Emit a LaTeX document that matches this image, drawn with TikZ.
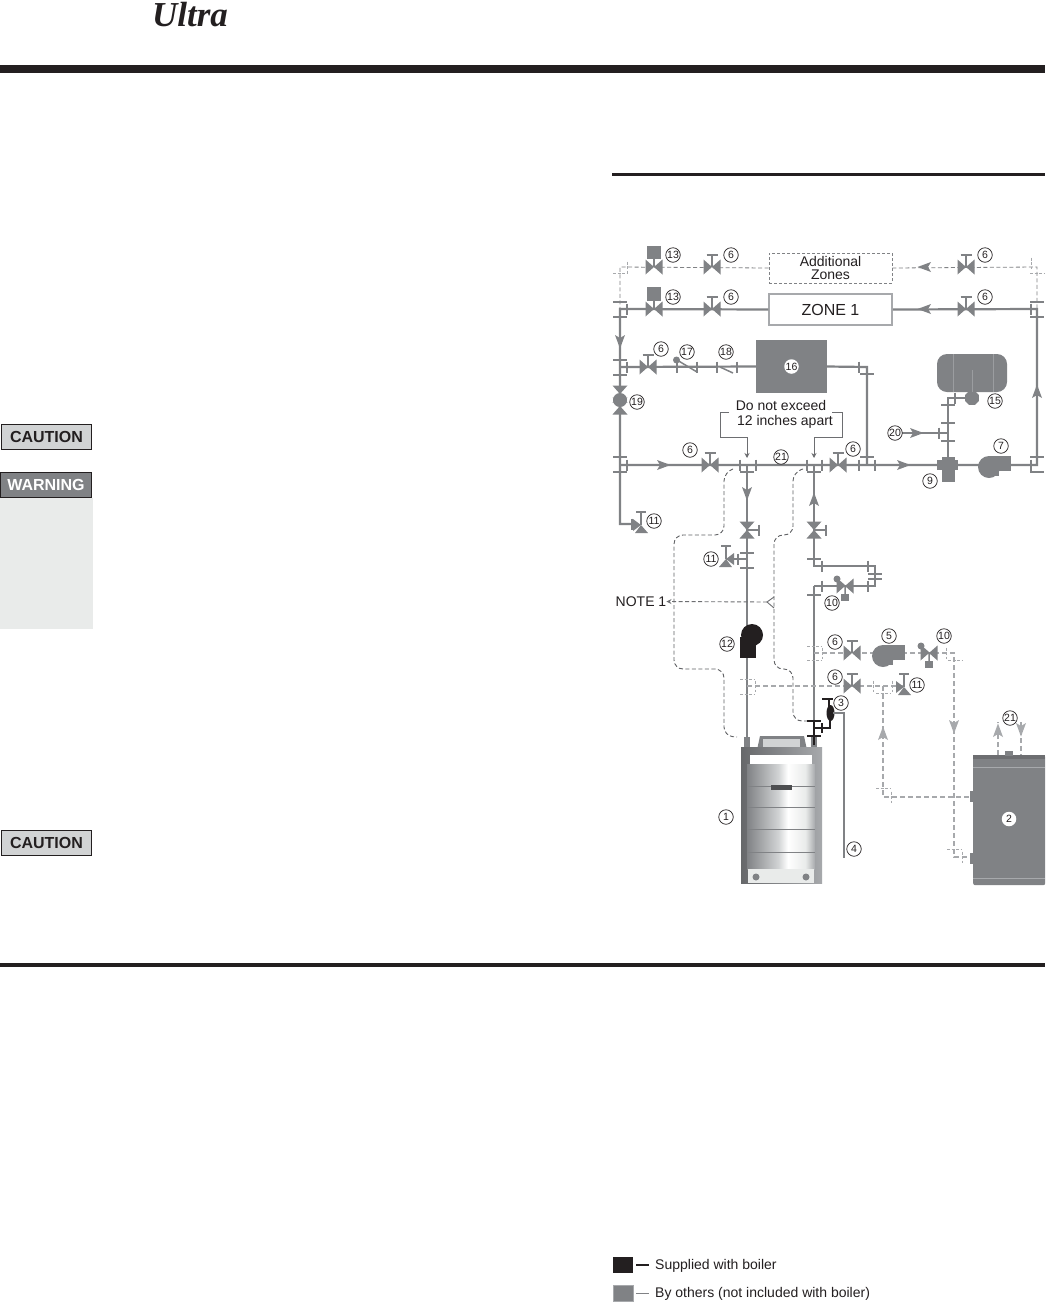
\documentclass[tikz,border=0pt]{standalone}
\usepackage{fontspec}
\setmainfont{Liberation Sans}
\newfontfamily\ultrafont{Liberation Serif}
\usetikzlibrary{positioning, arrows.meta, shapes.geometric}
\definecolor{partgray}{HTML}{808285}
\definecolor{ltgray}{HTML}{A7A9AC}
\definecolor{inkblack}{HTML}{231F20}
\definecolor{cautionfill}{HTML}{D1D3D4}
\definecolor{panelfill}{HTML}{E9EBEA}
\pgfdeclarehorizontalshading{boilerface}{100bp}{color(0bp)=(partgray); color(25bp)=(partgray); color(48bp)=(cautionfill); color(55bp)=(white); color(68bp)=(panelfill); color(75bp)=(ltgray); color(100bp)=(ltgray)}
\tikzset{
    pipe/.style={draw=partgray, line width=2.2pt},
    branch/.style={draw=ltgray, line width=1.3pt, dash pattern=on 5pt off 3pt},
    thinbranch/.style={draw=partgray, line width=0.8pt, dash pattern=on 4pt off 2.5pt},
    note/.style={draw=partgray!75!black, line width=0.9pt, dash pattern=on 4pt off 2.5pt, rounded corners=9pt},
    leader/.style={draw=partgray!85!black, line width=0.9pt, >={Stealth[length=5pt,width=5pt]}},
    flange/.style={draw=partgray, line width=1.5pt},
    dflange/.style={draw=ltgray, line width=1pt, dash pattern=on 3pt off 1.5pt},
    lbl/.style={font=\fontsize{14}{14.5}\selectfont, text=inkblack, inner sep=0pt, align=center},
    num/.style={circle, draw=inkblack, fill=white, line width=0.7pt, inner sep=0pt, minimum size=14.5pt, font=\fontsize{10.5}{11}\selectfont, text=inkblack},
    numin/.style={num, draw=none},
    tag/.style={draw=inkblack, line width=1pt, minimum width=90pt, minimum height=25pt, inner sep=0pt, font=\fontsize{16}{16.5}\selectfont\bfseries},
    gatevalve/.pic={
        \fill[partgray] (-8.5,-7.5) -- (8.5,7.5) -- (8.5,-7.5) -- (-8.5,7.5) -- cycle;
        \draw[flange] (0,0) -- (0,-12) (-5.5,-12) -- (5.5,-12);
    },
    bowvalve/.pic={
        \fill[partgray] (-8.5,-7.5) -- (8.5,7.5) -- (8.5,-7.5) -- (-8.5,7.5) -- cycle;
    },
    anglevalve/.pic={
        \fill[partgray] (-8,-6) -- (0,0) -- (-8,6) -- cycle;
        \fill[partgray] (-6,8) -- (0,0) -- (7,8) -- cycle;
        \draw[flange] (0,0) -- (0,-13) (-5,-13) -- (5,-13);
    },
    mixvalve/.pic={
        \fill[partgray] (-8.5,-7.5) -- (8.5,7.5) -- (8.5,-7.5) -- (-8.5,7.5) -- cycle;
        \fill[partgray] (-8,-7) circle (3.5);
        \fill[partgray] (-4,8) rectangle (4,15);
        \draw[flange] (-8,-7) -- (0,0) -- (0,9);
    },
    flow/.pic={
        \fill[partgray] (6.5,0) -- (-7,-5) -- (-4,0) -- (-7,5) -- cycle;
    },
    dflow/.pic={
        \fill[ltgray] (6.5,0) -- (-7,-5) -- (-4,0) -- (-7,5) -- cycle;
    },
    pump/.pic={
        \fill[partgray] (0,0) circle (11);
        \fill[partgray] (0,-11) rectangle (22,4);
        \fill[partgray] (0,0) rectangle (10,9);
    }
}
\begin{document}
\begin{tikzpicture}[x=1pt, y=-1pt]
    \useasboundingbox (0,0) rectangle (1045,1302);
    \fill[white] (0,0) rectangle (1045,1302);

    % page furniture
    \node[font=\ultrafont\fontsize{35}{36}\selectfont\bfseries\itshape, text=inkblack, inner sep=0pt] (ultra) at (190,15) {Ultra};
    \fill[inkblack] (0,65) rectangle (1045,72.5);
    \fill[inkblack] (612,173) rectangle (1045,176);
    \fill[inkblack] (0,963) rectangle (1045,966.5);

    \fill[panelfill] (0,498) rectangle (93,629);
    \node[tag, fill=cautionfill, text=inkblack] (caution1) at (46.5,437) {CAUTION};
    \node[tag, fill=partgray, text=white, minimum width=91pt] (warning) at (46,485) {WARNING};
    \node[tag, fill=cautionfill, text=inkblack] (caution2) at (46.5,843) {CAUTION};

    % equipment
    \node[thinbranch, dash pattern=on 3pt off 2pt, minimum width=123pt, minimum height=30pt, inner sep=0pt, lbl, fill=white, text depth=0pt] (zones) at (830.5,268) {Additional\\[-1.5pt]Zones};
    \node[draw=ltgray, line width=1.5pt, fill=white, minimum width=123pt, minimum height=31pt, inner sep=0pt, font=\fontsize{16}{17}\selectfont, text=inkblack] (zone1) at (830.5,309.5) {ZONE 1};
    \node[fill=partgray, minimum width=71pt, minimum height=53pt, inner sep=0pt] (indirect) at (791.5,366.5) {};
    \node[fill=partgray, rounded corners=10pt, minimum width=70pt, minimum height=38pt, inner sep=0pt] (exptank) at (972,373) {};
    \node[regular polygon, regular polygon sides=8, fill=partgray, minimum size=15pt, inner sep=0pt] (airsep) at (972,398) {};
    \node[fill=partgray, rounded corners=2pt, minimum width=72pt, minimum height=130pt, inner sep=0pt, anchor=north west] (watertank) at (973,755) {};

    \coordinate (topL) at (620,267);
    \coordinate (topR) at (1037,267);
    \coordinate (zoneL) at (620,309);
    \coordinate (zoneR) at (1037,309);
    \coordinate (rowL) at (620,367);
    \coordinate (mainL) at (620,465);
    \coordinate (mainR) at (1037,465);
    \coordinate (drainL) at (620,524);
    \coordinate (drainV) at (636,524);
    \coordinate (supT) at (747,465);
    \coordinate (retT) at (814,465);
    \coordinate (supB) at (747,745);
    \coordinate (retB) at (814,745);
    \coordinate (sysT) at (867,367);
    \coordinate (sysB) at (867,465);
    \coordinate (expB) at (948,465);
    \coordinate (expT) at (948,398);
    \coordinate (feed) at (948,433);
    \coordinate (feedS) at (902,433);
    \coordinate (reliefL) at (726,559);
    \coordinate (supR) at (747,559);
    \coordinate (loopA) at (814,566);
    \coordinate (loopB) at (875,566);
    \coordinate (loopC) at (875,586);
    \coordinate (loopD) at (814,586);
    \coordinate (dhwA) at (814,653);
    \coordinate (dhwB) at (954,653);
    \coordinate (dhwC) at (954,857);
    \coordinate (dhwD) at (973,857);
    \coordinate (dhrA) at (747,686);
    \coordinate (dhrB) at (905,686);
    \coordinate (dhrC) at (883,686);
    \coordinate (dhrD) at (883,797);
    \coordinate (dhrE) at (973,797);
    \coordinate (outA) at (998,755);
    \coordinate (outB) at (998,722);
    \coordinate (inA) at (1021,722);
    \coordinate (inB) at (1021,755);

    % system piping
    \draw[pipe] (zone1.west) -- (zoneL) -- (mainL) -- (drainL) -- (drainV);
    \draw[pipe] (zone1.east) -- (zoneR) -- (mainR) -- (mainL);
    \draw[pipe] (rowL) -- (indirect.west);
    \draw[pipe] (indirect.east) -- (sysT) -- (sysB);
    \draw[pipe] (expB) -- (expT) -- (airsep.west);
    \draw[pipe] (feedS) -- (feed);
    \draw[pipe] (supT) -- (supB);
    \draw[pipe] (supR) -- (reliefL);
    \draw[pipe] (retT) -- (loopA) -- (loopB) -- (loopC) -- (loopD);
    \draw[pipe] (loopD) -- (retB);

    % dashed piping
    \draw[thinbranch] (zones.west) -- (topL) -- (zoneL);
    \draw[thinbranch] (zones.east) -- (topR) -- (zoneR);
    \draw[branch] (dhwA) -- (dhwB) -- (dhwC) -- (dhwD);
    \draw[branch] (dhrA) -- (dhrB);
    \draw[branch] (dhrC) -- (dhrD) -- (dhrE);
    \draw[branch] (outA) -- (outB);
    \draw[branch] (inA) -- (inB);

    % NOTE 1 outlines
    \draw[note] (733,469) -- (724,472) -- (724,535) -- (674,535) -- (674,669) -- (724,669) -- (724,736) -- (737,737);
    \draw[note] (803,469) -- (793,472) -- (793,535) -- (774,535) -- (774,669) -- (793,669) -- (793,721) -- (808,721);
    \node[lbl, anchor=west] (note1) at (615.5,601.5) {NOTE 1};
    \coordinate (noteEnd) at (767,602);
    \draw[leader, dash pattern=on 4pt off 2.5pt, ->] (noteEnd) -- (note1.east);
    \draw[leader] (774,597) -- (noteEnd) -- (774,608);

    % 12 inch spacing
    \node[lbl] (exceed) at (781,405) {Do not exceed};
    \node[lbl, below=5pt of exceed, xshift=4pt] (apart) {12 inches apart};
    \coordinate (apartL) at (729,412);
    \coordinate (apartR) at (832,412);
    \draw[leader, ->] (apartL) -- (720,412) -- (720,437) -- (747,437) -- (747,458);
    \draw[leader, ->] (apartR) -- (842,412) -- (842,437) -- (814,437) -- (814,458);

    % flange ticks
    \foreach \x/\y in {620/302,620/317,620/360,620/375,620/457,620/472,867/374,747/472,814/472,
        867/457,948/405,948/423,948/441,1037/302,1037/317,1037/457,1037/472,
        747/553,747/568,814/559,814/595,875/574,875/579} {
        \draw[flange, shift={(\x,\y)}] (-7,0) -- (7,0);
    }
    \foreach \x/\y in {627/309,1031/309,627/367,677/367,697/367,717/367,737/367,859/367,627/465,
        740/465,756/465,807/465,822/465,859/465,875/465,1031/465,955/398,939/433,
        632/524,738/559,822/566,868/566,868/586,822/586} {
        \draw[flange, shift={(\x,\y)}] (0,-5.5) -- (0,5.5);
    }
    \foreach \x/\y in {620/273,1037/273,814/646,814/660,955/660,747/679,747/694,883/693,883/788,954/849} {
        \draw[dflange, shift={(\x,\y)}] (-7,0) -- (7,0);
    }
    \foreach \x/\y in {627/267,1031/263,822/653,946/653,755/686,873/686,892/686,891/797,962/857} {
        \draw[dflange, shift={(\x,\y)}] (0,-5.5) -- (0,5.5);
    }

    % check valves
    \draw[flange] (677,360) -- (697,372);
    \fill[partgray] (676.5,360) circle (3.5);
    \draw[flange] (720,367) -- (733,373);

    % valves
    \foreach \x/\y in {712/267,966/267,654/309,712/309,966/309,648/367,710/465,838/465,852/653,852/686} {
        \pic at (\x,\y) {gatevalve};
    }
    \pic at (654,267) {gatevalve};
    \fill[partgray] (647,246) rectangle (661,259);
    \fill[partgray] (647,287) rectangle (661,301);
    \pic[rotate=-90] at (747,530) {gatevalve};
    \pic[rotate=-90] at (814,530) {gatevalve};
    \pic at (641,525) {anglevalve};
    \pic[xscale=-1] at (726,559) {anglevalve};
    \pic at (904,687) {anglevalve};
    \pic at (845,586) {mixvalve};
    \pic at (929,653) {mixvalve};

    % circulators and fittings
    \pic at (989,467) {pump};
    \pic at (883,656) {pump};
    \fill[partgray] (942,457) rectangle (955,482);
    \fill[partgray] (937,460) rectangle (958,470);
    \pic[rotate=90] at (620,394) {bowvalve};
    \pic[rotate=90] at (620,406) {bowvalve};
    \fill[partgray] (620,400) circle (7);

    \fill[inkblack] (740,637) rectangle (756,658);
    \fill[inkblack] (752,635) circle (11);

    % expansion tank detail
    \draw[ltgray!70!partgray, line width=1pt] (953,354) -- (953,392) (993,354) -- (993,392);
    \draw[ltgray!70!partgray, line width=1pt] (972,370) -- (972,392);

    % flow arrows
    \foreach \x/\y/\r in {924/267/180,924/309/180,620/342/-90,664/465/0,904/465/0,747/494/-90,814/499/90,
        1037/391/90,917/433/0} {
        \pic[rotate=\r] at (\x,\y) {flow};
    }
    \foreach \x/\y/\r in {883/733/90,954/727/-90,998/730/90,1021/730/-90} {
        \pic[rotate=\r] at (\x,\y) {dflow};
    }

    % boiler
    \fill[partgray] (744,737) rectangle (750,748);
    \fill[partgray] (811,737) rectangle (817,748);
    \fill[partgray] (757,750) -- (760,736) -- (804,736) -- (807,750) -- cycle;
    \fill[cautionfill] (763,739) rectangle (800,749);
    \shade[left color=partgray!80!black, right color=ltgray] (741,747) rectangle (822,883);
    \shade[shading=boilerface] (747,764) rectangle (815,869);
    \fill[white] (750,755) rectangle (812,764);
    \foreach \y in {786,807,829,852} {
        \draw[partgray, line width=0.7pt] (747,\y) -- (815,\y);
    }
    \fill[panelfill] (748,869) rectangle (814,883);
    \fill[partgray] (756,877) circle (3.5);
    \fill[partgray] (806,877) circle (3.5);
    \fill[partgray!60!black] (771,784.5) rectangle (792,789.5);

    % boiler piping
    \draw[inkblack, line width=1.6pt] (814,721) -- (814,745);
    \draw[inkblack, line width=1.6pt] (807,721) -- (821,721) (807,736) -- (821,736);
    \draw[inkblack, line width=1.6pt] (814,728) -- (830,728) -- (830,718);
    \draw[inkblack, line width=1.6pt] (822,723) -- (822,733);
    \draw[inkblack, line width=1.6pt] (822,699) -- (833,699) (829,699) -- (829,710);
    \fill[inkblack] (830.5,713) ellipse (4 and 8);
    \coordinate (dischA) at (833,713);
    \coordinate (dischB) at (844,713);
    \coordinate (dischC) at (844,858);
    \draw[partgray, line width=1.6pt] (dischA) -- (dischB) -- (dischC);

    % water heater tappings
    \fill[partgray!85!black] (973,755) rectangle (1045,759);
    \draw[ltgray, line width=0.8pt] (973,767) -- (1045,767) (973,878) -- (1045,878);
    \fill[partgray] (970,791) rectangle (975,802);
    \fill[partgray] (970,853) rectangle (975,864);
    \fill[partgray] (1005,751) rectangle (1013,756);

    % item numbers
    \foreach \n/\x/\y in {13/673/255,13/673/297,6/731/255,6/731/297,6/985/255,6/985/297,6/661/349,
        17/687/352,18/726/352,19/637/402,15/995/401,7/1001/446,20/895/433,9/930/481,6/690/450,
        21/781/457,6/853/449,11/654/521,11/711/559,10/832/603,12/727/644,6/835/642,5/889/636,
        10/944/636,6/835/677,11/917/685,3/841/703,21/1010/718,1/726/817,4/854/849} {
        \node[num] (n\x-\y) at (\x,\y) {\n};
    }
    \node[numin] (n16) at (indirect) {16};
    \node[numin] (n2) at (1009,819) {2};

    % legend
    \fill[inkblack] (613,1257) rectangle (633,1273);
    \draw[inkblack, line width=1.5pt] (636,1265) -- (649,1265);
    \fill[partgray, draw=ltgray] (613,1285) rectangle (633,1301);
    \draw[partgray, line width=1.5pt] (636,1293.5) -- (649,1293.5);
    \node[lbl, anchor=west] (supplied) at (655,1265.5) {Supplied with boiler};
    \node[lbl, anchor=west] (others) at (655,1294) {By others (not included with boiler)};
\end{tikzpicture}
\end{document}
